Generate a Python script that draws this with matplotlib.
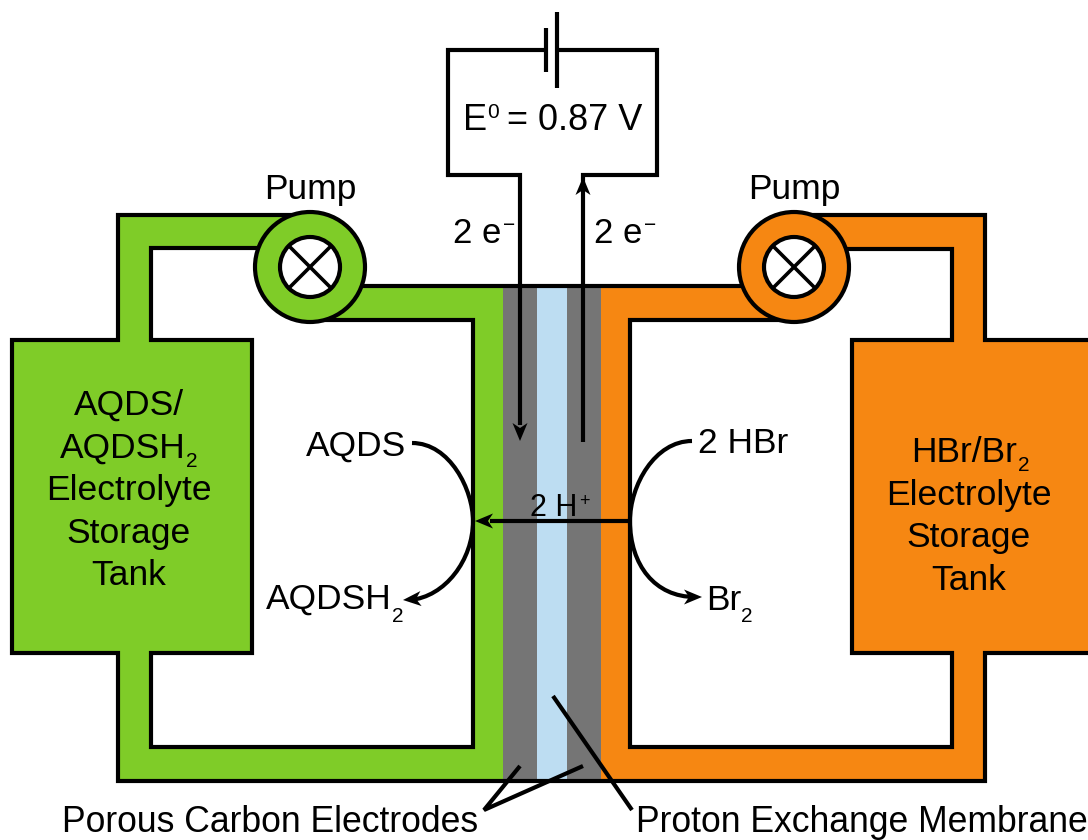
import matplotlib
matplotlib.use("Agg")
import matplotlib.pyplot as plt
from matplotlib.patches import Rectangle, Circle, Polygon, PathPatch
from matplotlib.path import Path

GREEN = "#7FCC28"
ORANGE = "#F68712"
GREY = "#757575"
BLUE = "#BDDDF2"
FONT = "Liberation Sans"
LW = 3.0

# x, y, w, h in pixels of the original picture
green_parts = [(12, 340, 240, 313), (118, 215, 33, 125), (118, 215, 190, 33),
               (118, 653, 33, 128), (118, 747, 385, 34), (473, 286, 30, 495),
               (310, 286, 163, 34)]
orange_parts = [(852, 340, 240, 313), (952, 215, 33, 125), (794, 215, 191, 34),
                (952, 653, 33, 128), (601, 747, 384, 34), (601, 286, 29, 495),
                (601, 286, 193, 34)]
cell_parts = [(503, 34, GREY), (537, 30, BLUE), (567, 34, GREY)]

outlines = [
    [(295, 215), (118, 215), (118, 340), (12, 340), (12, 653), (118, 653),
     (118, 781), (985, 781), (985, 653), (1092, 653)],
    [(265, 248), (151, 248), (151, 340), (252, 340), (252, 653), (151, 653),
     (151, 747), (473, 747), (473, 320), (325, 320)],
    [(360, 286), (750, 286)],
    [(780, 320), (630, 320), (630, 747), (952, 747), (952, 653), (852, 653),
     (852, 340), (952, 340), (952, 249), (840, 249)],
    [(1092, 340), (985, 340), (985, 215), (810, 215)],
]
wires = [
    [(546, 50), (448, 50), (448, 175), (520, 175), (520, 425)],
    [(557, 50), (657, 50), (657, 175), (583, 175), (583, 442)],
    [(546, 28), (546, 72)],
    [(557, 12), (557, 88)],
    [(630, 521), (490, 521)],
    [(520, 766), (484, 810), (583, 766)],
    [(553, 696), (632, 810)],
]
pump_centers = [(310, 267, GREEN), (794, 267, ORANGE)]

# tip x, tip y, dir x, dir y
arrow_heads = [(520, 441, 0, 1), (583, 177, 0, -1), (475, 521, -1, 0),
               (403, 600, -1, 0.08), (702, 597, 1, 0)]

curves = [
    [(412, 443), (450, 443), (473, 490), (473, 521), (473, 560), (445, 597), (410, 600)],
    [(692, 441), (655, 441), (630, 485), (630, 521), (630, 565), (655, 597), (695, 597)],
]

# text, x, y, ha, size
labels = [
    ("Pump", 310, 199, "center", 25.5),
    ("Pump", 794, 199, "center", 25.5),
    ("E", 463, 130, "left", 26),
    ("0", 487, 118, "left", 15),
    ("= 0.87 V", 507, 130, "left", 26),
    ("2 e", 453, 243, "left", 25),
    ("\u2212", 503, 231, "left", 15),
    ("2 e", 594, 243, "left", 25),
    ("\u2212", 644, 231, "left", 15),
    ("AQDS/", 129, 415, "center", 25.5),
    ("AQDSH", 60, 458, "left", 25.5),
    ("2", 186, 467, "left", 15),
    ("Electrolyte", 129, 500, "center", 25.5),
    ("Storage", 129, 543, "center", 25.5),
    ("Tank", 129, 585, "center", 25.5),
    ("HBr/Br", 911, 462, "left", 25.5),
    ("2", 1018, 471, "left", 15),
    ("Electrolyte", 969, 505, "center", 25.5),
    ("Storage", 969, 547, "center", 25.5),
    ("Tank", 969, 590, "center", 25.5),
    ("AQDS", 306, 456, "left", 25.5),
    ("AQDSH", 266, 609, "left", 25.5),
    ("2", 392, 622, "left", 15),
    ("2 HBr", 698, 453, "left", 25.5),
    ("Br", 706, 610, "left", 25.5),
    ("2", 741, 622, "left", 15),
    ("2 H", 530, 516, "left", 22),
    ("+", 579, 506, "left", 13),
    ("Porous Carbon Electrodes", 62, 832, "left", 25.6),
    ("Proton Exchange Membrane", 636, 832, "left", 25.6),
]


def draw_head(ax, x, y, dx, dy, length=18, half=7.5, notch=13):
    # swept back head, tip at x, y
    nx, ny = -dy, dx
    pts = [(x, y),
           (x - dx * length + nx * half, y - dy * length + ny * half),
           (x - dx * notch, y - dy * notch),
           (x - dx * length - nx * half, y - dy * length - ny * half)]
    ax.add_patch(Polygon(pts, closed=True, fc="black", ec="none", zorder=6))


fig = plt.figure(figsize=(10.88, 8.4), dpi=100)
ax = fig.add_axes([0, 0, 1, 1])
ax.set_xlim(0, 1088)
ax.set_ylim(840, 0)
ax.axis("off")

for x, y, w, h in green_parts:
    ax.add_patch(Rectangle((x, y), w, h, fc=GREEN, ec="none", zorder=1))
for x, y, w, h in orange_parts:
    ax.add_patch(Rectangle((x, y), w, h, fc=ORANGE, ec="none", zorder=1))
for x, w, c in cell_parts:
    ax.add_patch(Rectangle((x, 286), w, 495, fc=c, ec="none", zorder=2))

for line in outlines:
    ax.plot([p[0] for p in line], [p[1] for p in line], color="black", lw=LW,
            solid_joinstyle="miter", solid_capstyle="butt", zorder=3)

for cx, cy, c in pump_centers:
    ax.add_patch(Circle((cx, cy), 55, fc=c, ec="black", lw=LW, zorder=4))
    ax.add_patch(Circle((cx, cy), 30, fc="white", ec="black", lw=LW, zorder=5))
    d = 21
    ax.plot([cx - d, cx + d], [cy - d, cy + d], color="black", lw=2.6, zorder=5)
    ax.plot([cx - d, cx + d], [cy + d, cy - d], color="black", lw=2.6, zorder=5)

for line in wires:
    ax.plot([p[0] for p in line], [p[1] for p in line], color="black", lw=LW,
            solid_joinstyle="miter", solid_capstyle="butt", zorder=6)

for pts in curves:
    codes = [Path.MOVETO] + [Path.CURVE4] * 6
    ax.add_patch(PathPatch(Path(pts, codes), fc="none", ec="black", lw=LW,
                           capstyle="butt", zorder=6))

for x, y, dx, dy in arrow_heads:
    draw_head(ax, x, y, dx, dy)

for txt, x, y, ha, size in labels:
    ax.text(x, y, txt, ha=ha, va="baseline", fontsize=size, family=FONT,
            color="black", zorder=7)

plt.savefig("out.png", dpi=100)
